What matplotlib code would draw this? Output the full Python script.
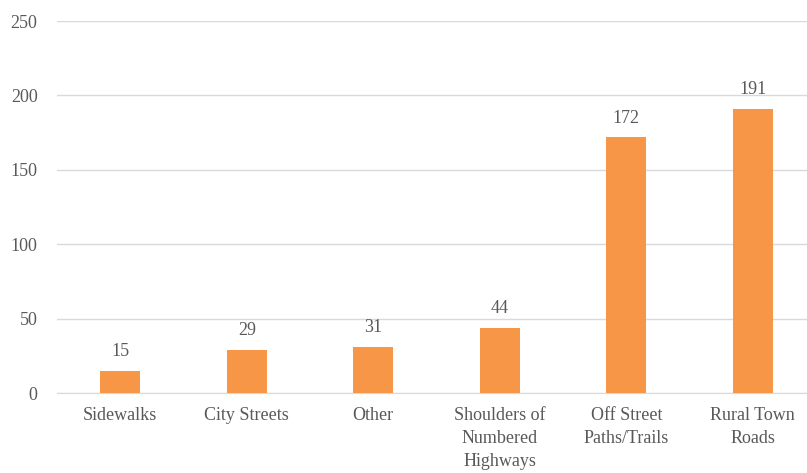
import matplotlib.pyplot as plt

# data
categories = ["Sidewalks", "City Streets", "Other", "Shoulders of\nNumbered\nHighways",
              "Off Street\nPaths/Trails", "Rural Town\nRoads"]
values = [15, 29, 31, 44, 172, 191]
yticks = [0, 50, 100, 150, 200, 250]

plt.rcParams['font.family'] = 'serif'
plt.rcParams['font.serif'] = ['Liberation Serif', 'DejaVu Serif']
text_color = "#595959"

fig = plt.figure(figsize=(8.07, 4.73), dpi=100)
ax = fig.add_axes([57 / 807, 80 / 473, 759 / 807, 372 / 473])

x = range(len(categories))
ax.bar(x, values, width=0.32, color="#F79646", zorder=3)
for xi, v in zip(x, values):
    ax.text(xi, v + 7, str(v), ha="center", va="bottom", fontsize=13, color=text_color)

ax.set_xlim(-0.5, len(categories) - 0.5)
ax.set_ylim(0, 250)
ax.set_yticks(yticks)
ax.set_xticks(list(x))
ax.set_xticklabels(categories, linespacing=1.45)
ax.grid(axis="y", color="#D9D9D9", linewidth=1, zorder=0)
ax.tick_params(axis="both", length=0, labelsize=13, labelcolor=text_color)
ax.tick_params(axis="y", pad=14)
ax.tick_params(axis="x", pad=10)
for s in ["top", "right", "left"]:
    ax.spines[s].set_visible(False)
ax.spines["bottom"].set_color("#D9D9D9")

fig.savefig("out.png", dpi=100)
